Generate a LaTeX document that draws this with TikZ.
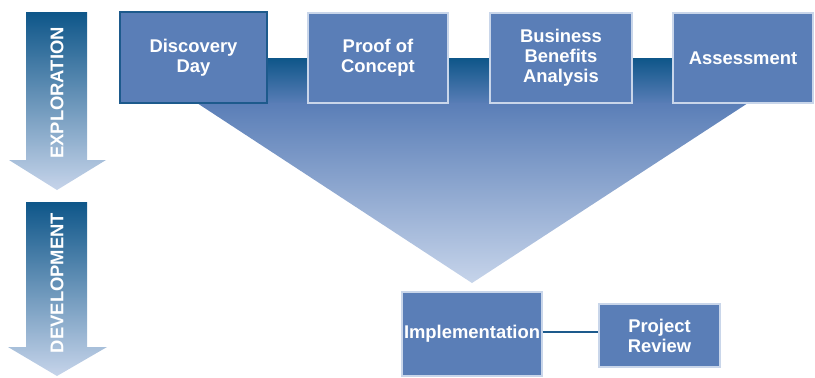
\documentclass[tikz,border=0pt]{standalone}
\usepackage{fontspec}
\setmainfont{Liberation Sans}
\usepackage{tikz}

\definecolor{boxblue}{HTML}{5A7EB7}
\definecolor{darkblue}{HTML}{0E5689}
\definecolor{edgeblue}{HTML}{1D5A8C}
\definecolor{lightblue}{HTML}{C6D4EA}
\definecolor{rimblue}{HTML}{C9D6EA}

\begin{document}
\begin{tikzpicture}[x=0.5pt, y=-0.5pt,
  stage/.style={draw=rimblue, line width=0.6pt, fill=boxblue, text=white, align=center,
    font=\fontsize{9.2}{10}\selectfont\bfseries, inner sep=0pt},
  phase/.style={text=white, font=\fontsize{9.2}{10}\selectfont\bfseries, rotate=90}]
\useasboundingbox (0,0) rectangle (815,377);

% arrows on the left
\shade[top color=darkblue, bottom color=lightblue] (26,12) -- (87,12) -- (87,160) -- (106,160) -- (57,190) -- (9,160) -- (26,160) -- cycle;
\shade[top color=darkblue, bottom color=lightblue] (26,202) -- (87,202) -- (87,347) -- (107,347) -- (57,376) -- (8,347) -- (26,347) -- cycle;
\node[phase] (expl) at (57,93) {EXPLORATION};
\node[phase] (devl) at (57,283) {DEVELOPMENT};

% band and funnel
\shade[top color=darkblue, bottom color=boxblue] (267,58) rectangle (673,104);
\shade[top color=boxblue, bottom color=lightblue] (197,103) -- (748,103) -- (472,283) -- cycle;

% stages
\node[stage, draw=edgeblue, line width=1pt, minimum width=73.5pt, minimum height=45.5pt] (disc) at (193.5,57.5) {Discovery\\Day};
\node[stage, minimum width=70pt, minimum height=45pt] (proof) at (378,58) {Proof of\\Concept};
\node[stage, minimum width=71pt, minimum height=45pt] (bba) at (561,58) {Business\\Benefits\\Analysis};
\node[stage, minimum width=70pt, minimum height=45pt] (assess) at (743,58) {Assessment};
\node[stage, minimum width=70pt, minimum height=42pt] (impl) at (472,334) {Implementation};
\node[stage, minimum width=60.5pt, minimum height=31.5pt] (review) at (659.5,335.5) {Project\\Review};

\draw[edgeblue, line width=1pt] (impl.east |- 0,332) -- (review.west |- 0,332);
\end{tikzpicture}
\end{document}
